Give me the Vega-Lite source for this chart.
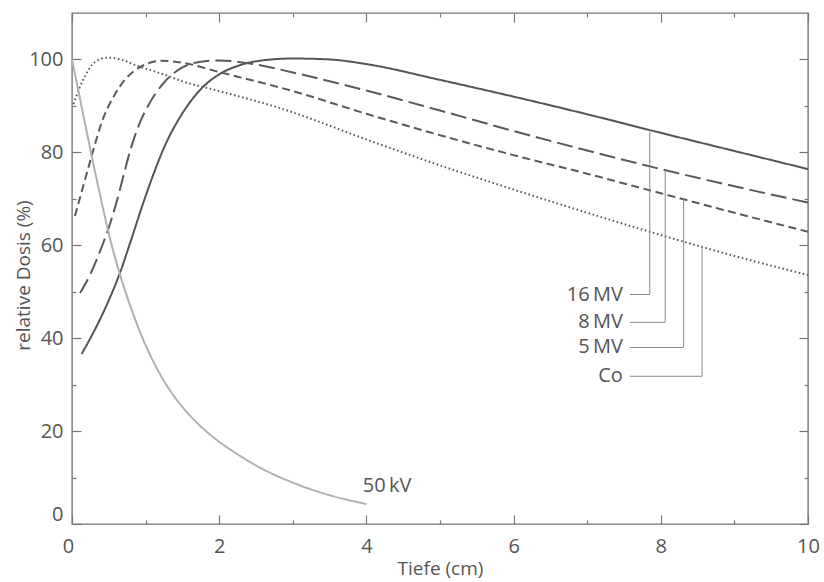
{
  "$schema": "https://vega.github.io/schema/vega-lite/v6.json",
  "width": 736,
  "height": 511,
  "autosize": "none",
  "padding": {"left": 72, "top": 13, "right": 16, "bottom": 58},
  "background": "white",
  "config": {
    "view": {"stroke": "#777777", "strokeWidth": 1.4},
    "axis": {
      "domain": false,
      "grid": false,
      "labelFont": "Open Sans",
      "labelFontSize": 20,
      "labelColor": "#555555",
      "titleFont": "Open Sans",
      "titleFontSize": 19,
      "titleFontWeight": "normal",
      "titleColor": "#555555",
      "tickColor": "#777777",
      "tickWidth": 1.2
    },
    "text": {"font": "Open Sans", "fontSize": 20, "fill": "#555555"}
  },
  "datasets": {
    "curves": [
      {"s": "16 MV", "x": 0.13, "y": 36.6}, {"s": "16 MV", "x": 0.25, "y": 40.0}, {"s": "16 MV", "x": 0.4, "y": 44.7}, {"s": "16 MV", "x": 0.55, "y": 50.0}, {"s": "16 MV", "x": 0.65, "y": 54.0}, {"s": "16 MV", "x": 0.8, "y": 61.0}, {"s": "16 MV", "x": 0.97, "y": 69.2}, {"s": "16 MV", "x": 1.1, "y": 75.0}, {"s": "16 MV", "x": 1.25, "y": 81.0}, {"s": "16 MV", "x": 1.5, "y": 88.4}, {"s": "16 MV", "x": 1.75, "y": 93.6}, {"s": "16 MV", "x": 2.0, "y": 96.8}, {"s": "16 MV", "x": 2.25, "y": 98.6}, {"s": "16 MV", "x": 2.5, "y": 99.6}, {"s": "16 MV", "x": 3.0, "y": 100.2}, {"s": "16 MV", "x": 3.5, "y": 100.0}, {"s": "16 MV", "x": 4.0, "y": 99.0}, {"s": "16 MV", "x": 5.0, "y": 95.6}, {"s": "16 MV", "x": 6.0, "y": 92.0}, {"s": "16 MV", "x": 7.0, "y": 88.2}, {"s": "16 MV", "x": 8.0, "y": 84.2}, {"s": "16 MV", "x": 9.0, "y": 80.3}, {"s": "16 MV", "x": 10.0, "y": 76.4},
      {"s": "8 MV", "x": 0.11, "y": 49.7}, {"s": "8 MV", "x": 0.25, "y": 53.8}, {"s": "8 MV", "x": 0.4, "y": 59.5}, {"s": "8 MV", "x": 0.5, "y": 63.8}, {"s": "8 MV", "x": 0.6, "y": 69.0}, {"s": "8 MV", "x": 0.7, "y": 75.0}, {"s": "8 MV", "x": 0.81, "y": 81.4}, {"s": "8 MV", "x": 0.92, "y": 86.3}, {"s": "8 MV", "x": 1.04, "y": 90.2}, {"s": "8 MV", "x": 1.26, "y": 95.2}, {"s": "8 MV", "x": 1.5, "y": 98.3}, {"s": "8 MV", "x": 1.75, "y": 99.5}, {"s": "8 MV", "x": 2.0, "y": 99.8}, {"s": "8 MV", "x": 2.5, "y": 98.9}, {"s": "8 MV", "x": 3.0, "y": 97.2}, {"s": "8 MV", "x": 4.0, "y": 93.3}, {"s": "8 MV", "x": 5.0, "y": 89.0}, {"s": "8 MV", "x": 6.0, "y": 84.6}, {"s": "8 MV", "x": 7.0, "y": 80.4}, {"s": "8 MV", "x": 8.0, "y": 76.4}, {"s": "8 MV", "x": 9.0, "y": 72.7}, {"s": "8 MV", "x": 10.0, "y": 69.2},
      {"s": "5 MV", "x": 0.04, "y": 66.3}, {"s": "5 MV", "x": 0.15, "y": 72.6}, {"s": "5 MV", "x": 0.29, "y": 80.5}, {"s": "5 MV", "x": 0.4, "y": 86.3}, {"s": "5 MV", "x": 0.58, "y": 92.4}, {"s": "5 MV", "x": 0.86, "y": 97.7}, {"s": "5 MV", "x": 1.22, "y": 99.7}, {"s": "5 MV", "x": 1.5, "y": 99.3}, {"s": "5 MV", "x": 2.0, "y": 97.3}, {"s": "5 MV", "x": 3.0, "y": 93.2}, {"s": "5 MV", "x": 4.0, "y": 88.3}, {"s": "5 MV", "x": 5.0, "y": 83.7}, {"s": "5 MV", "x": 6.0, "y": 79.4}, {"s": "5 MV", "x": 7.0, "y": 75.4}, {"s": "5 MV", "x": 8.0, "y": 71.2}, {"s": "5 MV", "x": 9.0, "y": 67.0}, {"s": "5 MV", "x": 10.0, "y": 62.9},
      {"s": "Co", "x": 0.02, "y": 90.4}, {"s": "Co", "x": 0.1, "y": 93.8}, {"s": "Co", "x": 0.18, "y": 96.5}, {"s": "Co", "x": 0.31, "y": 99.4}, {"s": "Co", "x": 0.49, "y": 100.4}, {"s": "Co", "x": 0.7, "y": 99.8}, {"s": "Co", "x": 0.86, "y": 98.8}, {"s": "Co", "x": 1.26, "y": 96.7}, {"s": "Co", "x": 1.5, "y": 95.3}, {"s": "Co", "x": 2.0, "y": 93.2}, {"s": "Co", "x": 2.83, "y": 89.5}, {"s": "Co", "x": 4.1, "y": 82.2}, {"s": "Co", "x": 5.0, "y": 77.2}, {"s": "Co", "x": 6.0, "y": 72.0}, {"s": "Co", "x": 7.0, "y": 67.0}, {"s": "Co", "x": 8.0, "y": 62.2}, {"s": "Co", "x": 9.0, "y": 57.7}, {"s": "Co", "x": 10.0, "y": 53.6},
      {"s": "50 kV", "x": 0.0, "y": 100.0}, {"s": "50 kV", "x": 0.1, "y": 92.2}, {"s": "50 kV", "x": 0.2, "y": 84.4}, {"s": "50 kV", "x": 0.3, "y": 76.8}, {"s": "50 kV", "x": 0.4, "y": 69.5}, {"s": "50 kV", "x": 0.5, "y": 62.5}, {"s": "50 kV", "x": 0.65, "y": 53.8}, {"s": "50 kV", "x": 0.8, "y": 46.6}, {"s": "50 kV", "x": 0.9, "y": 42.3}, {"s": "50 kV", "x": 1.0, "y": 38.5}, {"s": "50 kV", "x": 1.15, "y": 33.6}, {"s": "50 kV", "x": 1.3, "y": 29.5}, {"s": "50 kV", "x": 1.5, "y": 25.2}, {"s": "50 kV", "x": 1.75, "y": 21.0}, {"s": "50 kV", "x": 2.0, "y": 17.7}, {"s": "50 kV", "x": 2.25, "y": 15.0}, {"s": "50 kV", "x": 2.5, "y": 12.6}, {"s": "50 kV", "x": 3.0, "y": 8.9}, {"s": "50 kV", "x": 3.5, "y": 6.2}, {"s": "50 kV", "x": 4.0, "y": 4.3}
    ],
    "leaders": [
      {"label": "16\u2009MV", "lx": 7.58, "ly": 49.4, "vx": 7.85, "vy": 84.8},
      {"label": "8\u2009MV", "lx": 7.58, "ly": 43.4, "vx": 8.06, "vy": 76.2},
      {"label": "5\u2009MV", "lx": 7.58, "ly": 38.0, "vx": 8.31, "vy": 69.9},
      {"label": "Co", "lx": 7.58, "ly": 31.8, "vx": 8.56, "vy": 59.6}
    ],
    "kv": [{"label": "50\u2009kV", "x": 3.95, "y": 8.2}]
  },
  "resolve": {"axis": {"x": "independent", "y": "independent"}},
  "layer": [
    {
      "data": {"name": "curves"},
      "mark": {"type": "line", "interpolate": "monotone", "strokeCap": "butt"},
      "encoding": {
        "x": {
          "field": "x", "type": "quantitative",
          "scale": {"domain": [0, 10], "nice": false, "zero": false},
          "axis": {
            "orient": "bottom",
            "values": [0, 1, 2, 3, 4, 5, 6, 7, 8, 9, 10],
            "labelExpr": "datum.value % 2 === 0 ? datum.label : ''",
            "labelFlush": false,
            "labelOffset": {"condition": {"test": "datum.value === 0", "value": -4}, "value": 0},
            "tickSize": {"condition": {"test": "datum.value % 2 === 0", "value": -9}, "value": -4},
            "labelPadding": 21,
            "title": "Tiefe (cm)",
            "titleY": 35,
            "titleBaseline": "top"
          }
        },
        "y": {
          "field": "y", "type": "quantitative",
          "scale": {"domain": [0, 110], "nice": false, "zero": false},
          "axis": {
            "orient": "left",
            "values": [0, 10, 20, 30, 40, 50, 60, 70, 80, 90, 100],
            "labelExpr": "datum.value % 20 === 0 ? datum.label : ''",
            "tickSize": {"condition": {"test": "datum.value % 20 === 0", "value": -9}, "value": -4},
            "labelPadding": 18,
            "labelFlush": true,
            "title": "relative Dosis (%)",
            "titleX": -49,
            "titleY": 262,
            "titleBaseline": "middle"
          }
        },
        "detail": {"field": "s"},
        "color": {
          "field": "s", "type": "nominal", "legend": null,
          "scale": {"domain": ["16 MV", "8 MV", "5 MV", "Co", "50 kV"], "range": ["#555555", "#5a5a5a", "#5a5a5a", "#5a5a5a", "#b0b0b0"]}
        },
        "strokeDash": {
          "field": "s", "type": "nominal", "legend": null,
          "scale": {"domain": ["16 MV", "8 MV", "5 MV", "Co", "50 kV"], "range": [[1, 0], [16, 6], [8, 4.5], [1.6, 2.6], [1, 0]]}
        },
        "strokeWidth": {
          "field": "s", "type": "nominal", "legend": null,
          "scale": {"domain": ["16 MV", "8 MV", "5 MV", "Co", "50 kV"], "range": [2, 2, 2, 1.8, 1.8]}
        }
      }
    },
    {
      "data": {"name": "leaders"},
      "mark": {"type": "rule", "color": "#8a8a8a", "strokeWidth": 1},
      "encoding": {
        "x": {
          "field": "lx", "type": "quantitative",
          "scale": {"domain": [0, 10], "nice": false, "zero": false},
          "axis": {
            "orient": "top",
            "values": [0, 1, 2, 3, 4, 5, 6, 7, 8, 9, 10],
            "labels": false,
            "tickSize": {"condition": {"test": "datum.value % 2 === 0", "value": -9}, "value": -4},
            "title": null
          }
        },
        "x2": {"field": "vx"},
        "y": {
          "field": "ly", "type": "quantitative",
          "scale": {"domain": [0, 110], "nice": false, "zero": false},
          "axis": {
            "orient": "right",
            "values": [0, 10, 20, 30, 40, 50, 60, 70, 80, 90, 100],
            "labels": false,
            "tickSize": {"condition": {"test": "datum.value % 20 === 0", "value": -9}, "value": -4},
            "title": null
          }
        }
      }
    },
    {
      "data": {"name": "leaders"},
      "mark": {"type": "rule", "color": "#8a8a8a", "strokeWidth": 1},
      "encoding": {
        "x": {"field": "vx", "type": "quantitative", "scale": {"domain": [0, 10], "nice": false, "zero": false}, "axis": null},
        "y": {"field": "ly", "type": "quantitative", "scale": {"domain": [0, 110], "nice": false, "zero": false}, "axis": null},
        "y2": {"field": "vy"}
      }
    },
    {
      "data": {"name": "leaders"},
      "mark": {"type": "text", "align": "right", "baseline": "middle", "dx": -7},
      "encoding": {
        "x": {"field": "lx", "type": "quantitative", "scale": {"domain": [0, 10], "nice": false, "zero": false}, "axis": null},
        "y": {"field": "ly", "type": "quantitative", "scale": {"domain": [0, 110], "nice": false, "zero": false}, "axis": null},
        "text": {"field": "label"}
      }
    },
    {
      "data": {"name": "kv"},
      "mark": {"type": "text", "align": "left", "baseline": "middle"},
      "encoding": {
        "x": {"field": "x", "type": "quantitative", "scale": {"domain": [0, 10], "nice": false, "zero": false}, "axis": null},
        "y": {"field": "y", "type": "quantitative", "scale": {"domain": [0, 110], "nice": false, "zero": false}, "axis": null},
        "text": {"field": "label"}
      }
    }
  ]
}
